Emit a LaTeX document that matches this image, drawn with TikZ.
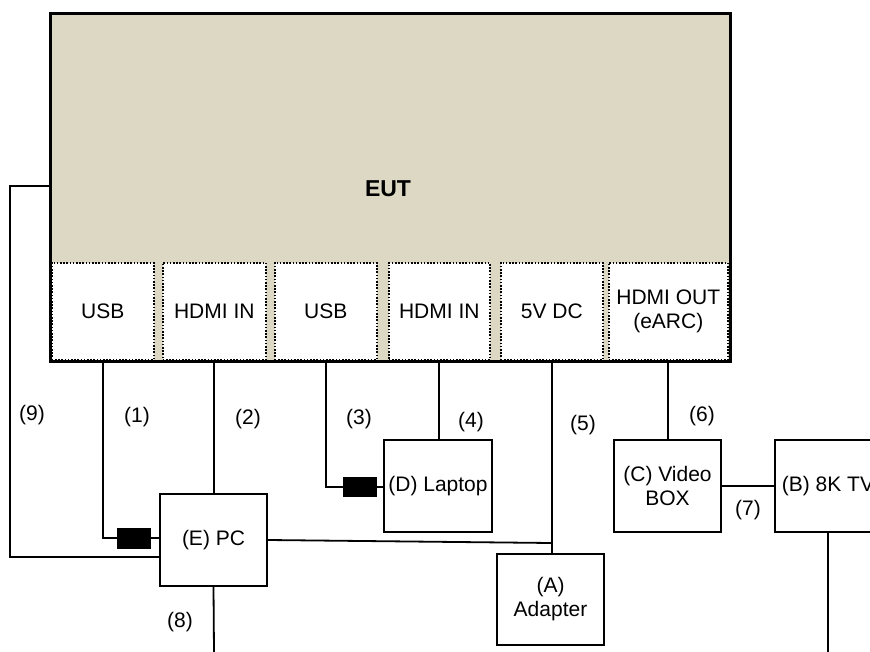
\documentclass[tikz,border=0pt]{standalone}
\usepackage{fontspec}
\setmainfont{Liberation Sans}
\definecolor{eutfill}{RGB}{221,216,195}
\begin{document}
\begin{tikzpicture}[x=1pt,y=-1pt,
  txt/.style={font=\fontsize{21}{24}\selectfont},
  box/.style={draw,line width=2pt,rectangle,inner sep=0pt,align=center,anchor=north west,txt},
  port/.style={draw,line width=1.6pt,dash pattern=on 1.6pt off 1.6pt,fill=white,inner sep=0pt,align=center,anchor=north west,minimum height=97pt,txt},
  wire/.style={line width=1.8pt},
  plug/.style={fill=black,draw=none,minimum width=34pt,minimum height=21pt,inner sep=0pt,anchor=north west},
  lbl/.style={txt,inner sep=0pt}]
\clip (0,0) rectangle (870,652);
\fill[white] (0,0) rectangle (870,652);
% EUT
\node[draw,line width=3pt,fill=eutfill,minimum width=680pt,minimum height=348pt,anchor=north west,inner sep=0pt] (eut) at (49,12) {};
\node[font=\bfseries\fontsize{23}{26}\selectfont] (eutl) at (388,189) {EUT};
% ports
\node[port,minimum width=102pt] (p1) at (51,262) {USB};
\node[port,minimum width=103pt] (p2) at (162,262) {HDMI IN};
\node[port,minimum width=102pt] (p3) at (274,262) {USB};
\node[port,minimum width=101pt] (p4) at (388,262) {HDMI IN};
\node[port,minimum width=102pt] (p5) at (500,262) {5V DC};
\node[port,minimum width=119pt] (p6) at (608,262) {HDMI OUT\\(eARC)};
% devices
\node[box,minimum width=107pt,minimum height=92pt] (pc) at (159,493) {(E) PC};
\node[box,minimum width=108pt,minimum height=92pt] (lap) at (383,439) {(D) Laptop};
\node[box,minimum width=107pt,minimum height=91pt] (ad) at (496,553) {(A)\\Adapter};
\node[box,minimum width=107pt,minimum height=92pt] (vb) at (613,439) {(C) Video\\BOX};
\node[box,minimum width=106pt,minimum height=92pt] (tv) at (774,439) {(B) 8K TV};
% plugs
\node[plug] (k1) at (117,527.5) {};
\node[plug,minimum height=20pt] (k3) at (343,477) {};
% coordinates
\coordinate (e9) at (49,186);
\coordinate (c9) at (10,186);
\coordinate (pc9) at (159,557);
\coordinate (j5) at (551,543);
\coordinate (b8) at (214,652);
\coordinate (btv) at (828,652);
% wires
\draw[wire] (e9) -- (c9) |- (pc9);
\draw[wire] (p1.south) |- (k1.west);
\draw[wire] (k1.east) -- (k1.east -| pc.west);
\draw[wire] (p2.south) -- (p2.south |- pc.north);
\draw[wire] (p3.south) |- (k3.west);
\draw[wire] (k3.east) -- (k3.east -| lap.west);
\draw[wire] (p4.south) -- (p4.south |- lap.north);
\draw[wire] (p5.south) -- (p5.south |- ad.north);
\draw[wire] (pc.east) -- (j5);
\draw[wire] (p6.south) -- (p6.south |- vb.north);
\draw[wire] (vb.east) -- (vb.east -| tv.west);
\draw[wire] (pc.south) -- (b8);
\draw[wire] (btv |- tv.south) -- (btv);
% labels
\node[lbl] (l9) at (32,415) {(9)};
\node[lbl] (l1) at (137,417) {(1)};
\node[lbl] (l2) at (248,419) {(2)};
\node[lbl] (l3) at (359,419) {(3)};
\node[lbl] (l4) at (471,422) {(4)};
\node[lbl] (l5) at (583,425) {(5)};
\node[lbl] (l6) at (702,416) {(6)};
\node[lbl] (l7) at (748,510) {(7)};
\node[lbl] (l8) at (180,622) {(8)};
\end{tikzpicture}
\end{document}
